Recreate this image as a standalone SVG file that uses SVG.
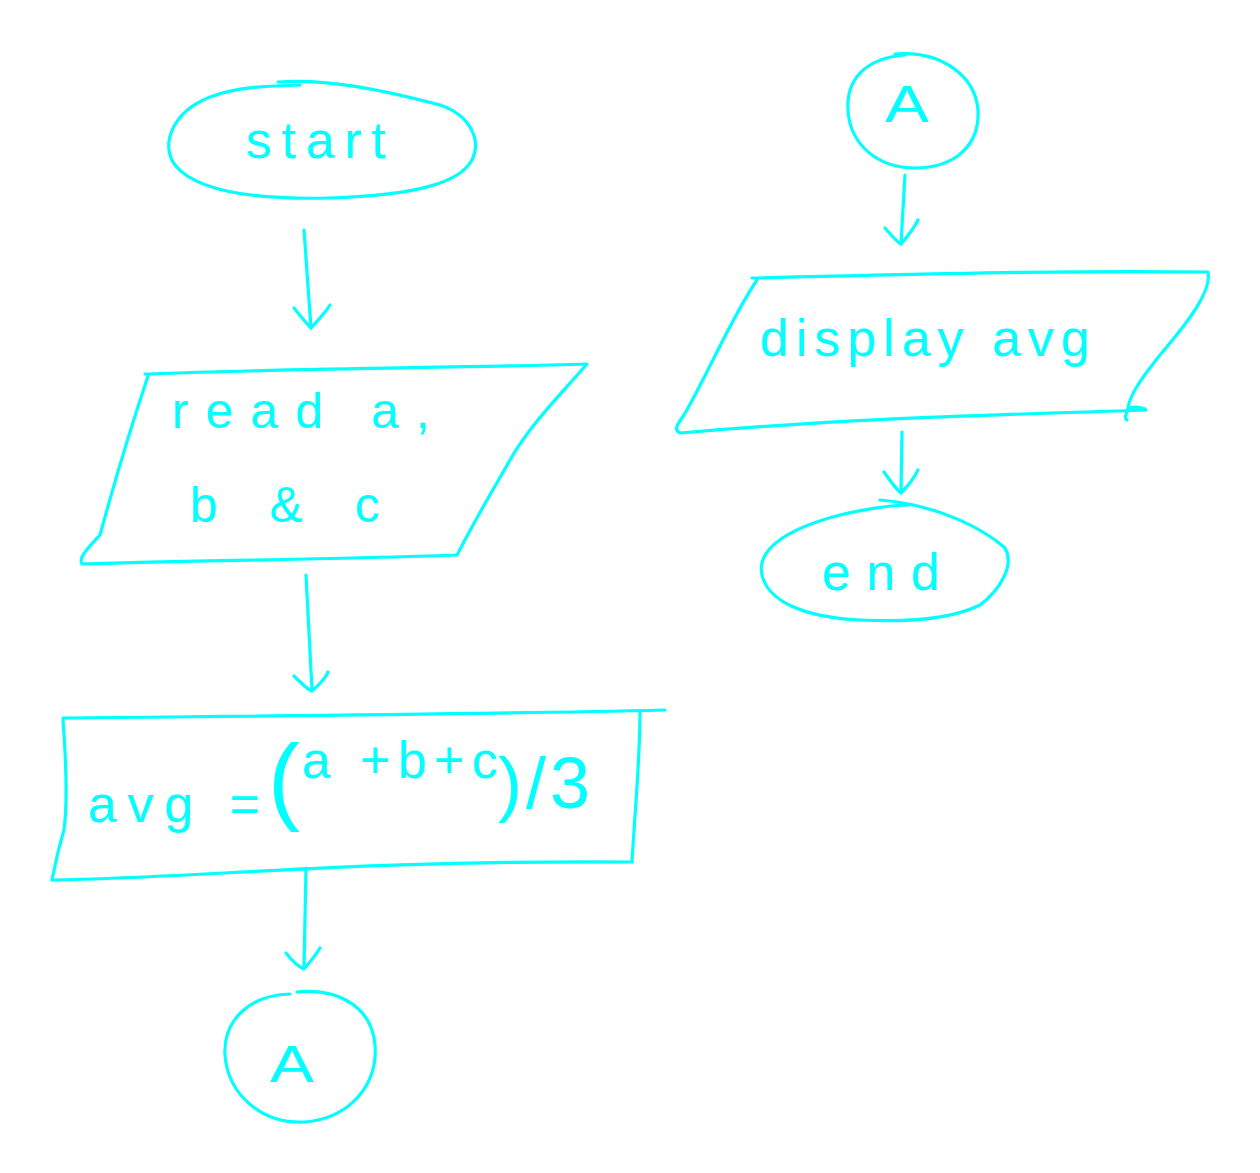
<svg xmlns="http://www.w3.org/2000/svg" width="1260" height="1173" viewBox="0 0 1260 1173">
<style>
.s{fill:none;stroke:#00ffff;stroke-width:3.2;stroke-linecap:round;stroke-linejoin:round}
.t{fill:#00ffff;font-family:"Liberation Sans","DejaVu Sans",sans-serif}
</style>
<rect width="1260" height="1173" fill="#ffffff"/>
<g id="start">
<path class="s" d="M278,82 C330,78 390,92 440,105 C470,115 482,140 472,160 C460,182 420,195 330,198 C250,200 195,190 175,165 C160,145 172,112 210,97 C240,86 270,86 300,85"/>
<text class="t" x="246" y="158" font-size="52" textLength="140" lengthAdjust="spacing">start</text>
</g>
<g id="read">
<path class="s" d="M145,374 L150,374 C300,368 450,368 587,364 C560,395 530,425 510,460 C490,495 475,520 457,555 C320,560 200,560 82,564 C78,558 88,548 100,535 C115,480 130,430 148,376"/>
<text class="t" x="172" y="428" font-size="50" textLength="258" lengthAdjust="spacing">read   a,</text>
<text class="t" x="190" y="522" font-size="50" textLength="190" lengthAdjust="spacing">b  &amp;  c</text>
</g>
<g id="calc">
<path class="s" d="M63,718 C250,716 450,715 665,710"/>
<path class="s" d="M63,720 C66,760 68,800 64,830 C58,850 54,870 52,880"/>
<path class="s" d="M52,880 C200,878 350,860 632,862"/>
<path class="s" d="M640,712 C640,760 635,810 632,862"/>
<text class="t" font-size="52"><tspan x="88" y="822" textLength="172" lengthAdjust="spacing">avg =</tspan><tspan x="268" y="812" font-size="96">(</tspan><tspan x="302" y="778" textLength="196" lengthAdjust="spacing">a +b+c</tspan><tspan x="498" y="808" font-size="72" textLength="92" lengthAdjust="spacing">)/3</tspan></text>
</g>
<g id="connA1">
<path class="s" d="M297,992 C340,988 372,1008 375,1045 C378,1085 350,1118 305,1122 C262,1124 228,1095 225,1055 C223,1020 250,995 290,994"/>
<text class="t" x="270" y="1082" font-size="52" textLength="44" lengthAdjust="spacingAndGlyphs">A</text>
</g>
<g id="connA2">
<path class="s" d="M895,54 C940,50 975,75 978,110 C980,145 955,168 915,168 C878,168 850,145 848,110 C846,80 865,58 905,55"/>
<text class="t" x="885" y="122" font-size="52" textLength="44" lengthAdjust="spacingAndGlyphs">A</text>
</g>
<g id="display">
<path class="s" d="M752,278 C900,275 1050,270 1208,272 C1212,290 1190,320 1160,355 C1140,380 1130,395 1128,408 C1126,415 1124,418 1127,420"/>
<path class="s" d="M1130,408 C1135,406 1145,408 1146,410 C1000,415 850,418 680,433 C674,430 676,426 684,415 C710,370 730,320 757,280"/>
<text class="t" x="760" y="356" font-size="52" textLength="330" lengthAdjust="spacing">display avg</text>
</g>
<g id="end">
<path class="s" d="M880,500 C940,505 985,530 1005,548 C1015,565 1000,590 980,605 C950,620 900,622 860,620 C800,617 768,600 762,575 C756,548 790,528 840,515 C860,510 890,505 910,505"/>
<text class="t" x="822" y="590" font-size="52" textLength="118" lengthAdjust="spacing">end</text>
</g>
<g id="connectors">
<path class="s" d="M304,230 L311,328"/>
<path class="s" d="M294,308 C302,318 308,325 311,328 C318,320 326,312 330,305"/>
<path class="s" d="M306,575 L312,690"/>
<path class="s" d="M294,676 C302,684 308,690 312,691 C320,684 326,678 328,672"/>
<path class="s" d="M306,868 L304,968"/>
<path class="s" d="M286,953 C293,962 299,967 304,969 C310,962 316,955 320,948"/>
<path class="s" d="M905,175 L901,243"/>
<path class="s" d="M885,228 C892,236 897,242 901,244 C908,236 914,228 918,220"/>
<path class="s" d="M902,432 L901,492"/>
<path class="s" d="M884,472 C891,482 897,490 901,493 C908,486 914,478 918,470"/>
</g>
</svg>
